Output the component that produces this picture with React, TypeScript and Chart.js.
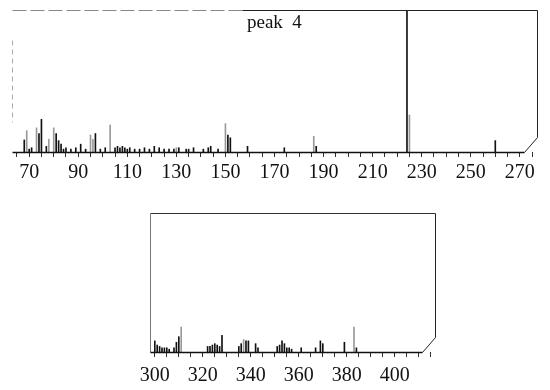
import React, { useEffect, useRef } from "react";
import { Chart, registerables } from "chart.js";
Chart.register(...registerables);

// ---------- data ----------
const topTitle = "peak  4";

// upper panel (m/z 63 – 277)
const topStrongMz = [68, 70, 71, 74, 75, 77, 81, 82, 83, 84, 85, 87, 89, 91, 93, 97, 99, 101, 105, 106, 107, 108, 109, 110, 111, 113, 115, 117, 119, 121, 123, 125, 127, 129, 131, 134, 135, 137, 141, 143, 144, 147, 151, 152, 159, 174, 187, 224, 260];
const topStrongInt = [8.5, 2, 3, 13, 23, 4, 13, 8, 5.5, 2, 3, 2, 3, 5.5, 2, 13, 2, 3, 3, 4, 3, 4, 3, 2, 3, 2, 2, 3, 2, 4, 3, 2, 2, 2, 3, 2, 2, 3, 2, 3, 4, 2, 12, 10, 4, 3, 4, 100, 8];
const topFaintMz = [69, 73, 78, 80, 95, 96, 103, 130, 150, 186, 225];
const topFaintInt = [15, 17, 9, 17, 12, 9, 19, 3, 20, 11, 26];
const topTickLabels = [70, 90, 110, 130, 150, 170, 190, 210, 230, 250, 270];

// lower panel (m/z 298 – 417)
const bottomStrongMz = [300, 301, 302, 303, 304, 305, 306, 308, 309, 310, 322, 323, 324, 325, 326, 327, 328, 335, 336, 338, 339, 342, 343, 351, 352, 353, 354, 355, 356, 357, 361, 367, 369, 370, 379, 384];
const bottomStrongInt = [8, 5, 4, 3, 3, 3, 2, 3, 7, 11, 4, 4, 5, 6, 5, 4, 12, 4, 6, 8, 8, 6, 3, 4, 5, 8, 6, 3, 3, 2, 3, 3, 8, 6, 7, 3];
const bottomFaintMz = [311, 337, 383];
const bottomFaintInt = [18, 9, 18];
const bottomTickLabels = [300, 320, 340, 360, 380, 400];

// ---------- helpers ----------
const toPoints = (mz: number[], inten: number[]) => mz.map((x, i) => ({ x, y: inten[i] }));

const SERIF = "'Liberation Serif', 'DejaVu Serif', serif";

function makeFrame(id: string, fadedLeft: boolean) {
  return {
    id,
    afterDraw(chart: any) {
      const { ctx, chartArea } = chart;
      const l = Math.round(chartArea.left) + 0.5;
      const r = Math.round(chartArea.right) + 0.5;
      const t = Math.round(chartArea.top) + 0.5;
      const b = Math.round(chartArea.bottom) + 0.5;
      ctx.save();
      ctx.lineWidth = 1;
      if (fadedLeft) {
        ctx.strokeStyle = "#888";
        ctx.setLineDash([14, 4]);
        ctx.beginPath();
        ctx.moveTo(l, t);
        ctx.lineTo(l + 230, t);
        ctx.stroke();
        ctx.setLineDash([]);
        ctx.strokeStyle = "#222";
        ctx.beginPath();
        ctx.moveTo(l + 230, t);
        ctx.lineTo(r, t);
        ctx.stroke();
        ctx.strokeStyle = "#aaa";
        ctx.setLineDash([5, 4]);
        ctx.beginPath();
        ctx.moveTo(l, t + 30);
        ctx.lineTo(l, b - 30);
        ctx.stroke();
        ctx.setLineDash([]);
      } else {
        ctx.strokeStyle = "#333";
        ctx.beginPath();
        ctx.moveTo(l, t);
        ctx.lineTo(r, t);
        ctx.stroke();
        ctx.strokeStyle = "#777";
        ctx.beginPath();
        ctx.moveTo(l, t);
        ctx.lineTo(l, b);
        ctx.stroke();
      }
      ctx.strokeStyle = "#222";
      ctx.beginPath();
      ctx.moveTo(r, t);
      ctx.lineTo(r, b - 15);
      ctx.lineTo(r - 13, b);
      ctx.stroke();
      ctx.lineWidth = 1.6;
      ctx.strokeStyle = "#111";
      ctx.beginPath();
      ctx.moveTo(l, b);
      ctx.lineTo(r - 13, b);
      ctx.stroke();
      ctx.restore();
    },
  };
}

function buildConfig(
  strong: { x: number; y: number }[],
  faint: { x: number; y: number }[],
  min: number,
  max: number,
  labels: number[],
  padding: any,
  labelPad: number,
  axisHeight: number,
  frame: any
): any {
  return {
    type: "bar",
    data: {
      datasets: [
        { data: strong, backgroundColor: "#111", barThickness: 1, grouped: false },
        { data: faint, backgroundColor: "#999", barThickness: 1, grouped: false },
      ],
    },
    options: {
      animation: false,
      responsive: false,
      maintainAspectRatio: false,
      layout: { padding },
      plugins: {
        legend: { display: false },
        tooltip: { enabled: false },
        title: { display: false },
      },
      scales: {
        x: {
          type: "linear",
          min,
          max,
          offset: false,
          grid: {
            display: true,
            drawOnChartArea: false,
            drawTicks: true,
            tickLength: 5,
            color: "#333",
            offset: false,
          },
          border: { display: false },
          ticks: {
            stepSize: 5,
            autoSkip: false,
            maxRotation: 0,
            minRotation: 0,
            includeBounds: false,
            padding: labelPad,
            color: "#111",
            font: { family: SERIF, size: 20 },
            callback: (v: number) => (labels.includes(v) ? String(v) : ""),
          },
          afterFit: (s: any) => {
            s.height = axisHeight;
          },
        },
        y: { display: false, min: 0, max: 100 },
      },
    },
    plugins: [frame],
  };
}

export default function App() {
  const topRef = useRef<HTMLCanvasElement>(null);
  const botRef = useRef<HTMLCanvasElement>(null);

  useEffect(() => {
    const top = new Chart(
      topRef.current as HTMLCanvasElement,
      buildConfig(
        toPoints(topStrongMz, topStrongInt),
        toPoints(topFaintMz, topFaintInt),
        63,
        277,
        topTickLabels,
        { left: 12, right: 13, top: 10, bottom: 0 },
        4,
        33,
        makeFrame("frameTop", true)
      )
    );
    const bot = new Chart(
      botRef.current as HTMLCanvasElement,
      buildConfig(
        toPoints(bottomStrongMz, bottomStrongInt),
        toPoints(bottomFaintMz, bottomFaintInt),
        298,
        416.75,
        bottomTickLabels,
        { left: 30, right: 15, top: 13, bottom: 2 },
        7,
        36,
        makeFrame("frameBottom", false)
      )
    );
    return () => {
      top.destroy();
      bot.destroy();
    };
  }, []);

  return (
    <div style={{ position: "absolute", left: 0, top: 0, width: 550, height: 390, background: "#fff" }}>
      <canvas
        ref={topRef}
        width={550}
        height={185}
        style={{ position: "absolute", left: 0, top: 0, display: "block" }}
      />
      <canvas
        ref={botRef}
        width={330}
        height={190}
        style={{ position: "absolute", left: 120, top: 200, display: "block" }}
      />
      <div
        style={{
          position: "absolute",
          left: 247,
          top: 12,
          fontFamily: SERIF,
          fontSize: 19,
          whiteSpace: "pre",
          color: "#111",
          lineHeight: "20px",
        }}
      >
        {topTitle}
      </div>
    </div>
  );
}
